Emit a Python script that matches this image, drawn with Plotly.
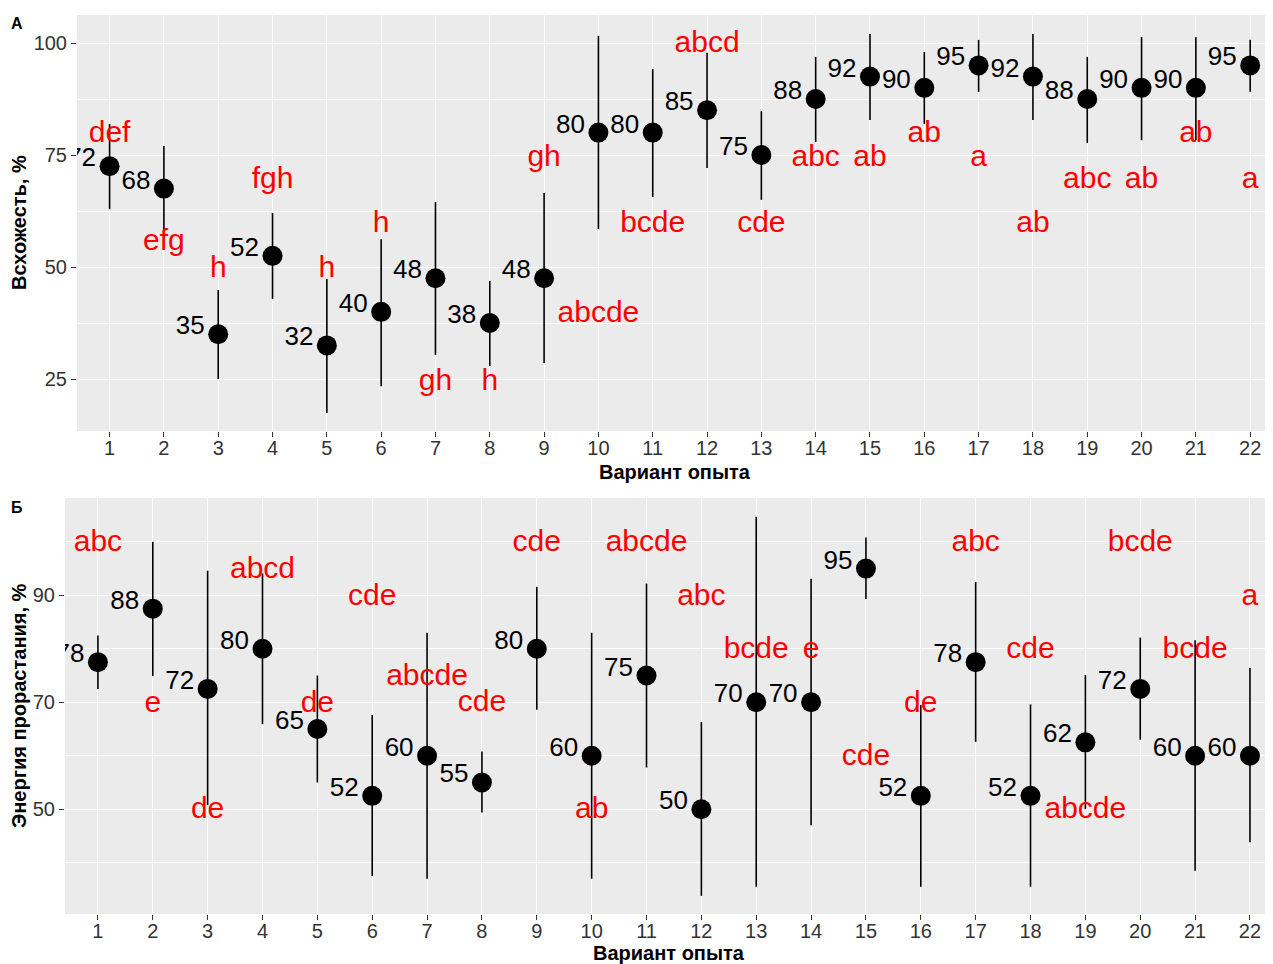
import plotly.graph_objects as go

# ---------------- data ----------------
variants = list(range(1, 23))

# Panel А: Всхожесть, %
a_mean = [72.5, 67.5, 35, 52.5, 32.5, 40, 47.5, 37.5, 47.5, 80, 80, 85, 75, 87.5,
          92.5, 90, 95, 92.5, 87.5, 90, 90, 95]
a_upper = [81.9, 77.0, 44.9, 62.1, 47.3, 56.2, 64.5, 46.9, 66.5, 101.6, 94.2, 97.8,
           84.8, 96.9, 102.0, 98.0, 100.7, 102.0, 96.9, 101.3, 101.3, 100.7]
a_lower = [62.9, 58.0, 25.0, 42.9, 17.4, 23.4, 30.4, 27.9, 28.6, 58.5, 65.6, 72.1,
           65.0, 77.9, 82.8, 81.9, 89.1, 82.8, 77.7, 78.3, 78.3, 89.1]
a_labels = ["72", "68", "35", "52", "32", "40", "48", "38", "48", "80", "80", "85",
            "75", "88", "92", "90", "95", "92", "88", "90", "90", "95"]
a_letters = ["def", "efg", "h", "fgh", "h", "h", "gh", "h", "gh", "abcde", "bcde",
             "abcd", "cde", "abc", "ab", "ab", "a", "ab", "abc", "ab", "ab", "a"]
a_letter_y = [79.5, 55.4, 49.5, 69.4, 49.5, 59.4, 24.3, 24.3, 74.3, 39.5, 59.4, 99.6,
              59.4, 74.3, 74.3, 79.5, 74.3, 59.4, 69.4, 69.4, 79.5, 69.4]

# Panel Б: Энергия прорастания, %
b_mean = [77.5, 87.5, 72.5, 80, 65, 52.5, 60, 55, 80, 60, 75, 50, 70, 70, 95, 52.5,
          77.5, 52.5, 62.5, 72.5, 60, 60]
b_upper = [82.5, 100.0, 94.6, 94.1, 75.0, 67.6, 83.0, 60.8, 91.6, 83.0, 92.2, 66.3,
           104.7, 93.1, 100.8, 69.5, 92.5, 69.6, 75.1, 82.1, 81.6, 76.4]
b_lower = [72.5, 74.9, 50.8, 65.9, 55.0, 37.5, 37.0, 49.4, 68.6, 37.0, 57.8, 33.8,
           35.5, 47.0, 89.3, 35.5, 62.6, 35.5, 50.0, 63.0, 38.5, 43.8]
b_labels = ["78", "88", "72", "80", "65", "52", "60", "55", "80", "60", "75", "50",
            "70", "70", "95", "52", "78", "52", "62", "72", "60", "60"]
b_letters = ["abc", "e", "de", "abcd", "de", "cde", "abcde", "cde", "cde", "ab",
             "abcde", "abc", "bcde", "e", "cde", "de", "abc", "cde", "abcde", "bcde",
             "bcde", "a"]
b_letter_y = [99.6, 69.5, 49.7, 94.7, 69.5, 89.5, 74.7, 69.7, 99.6, 49.7, 99.6, 89.5,
              79.6, 79.6, 59.6, 69.5, 99.6, 79.6, 49.7, 99.6, 79.6, 89.5]

a_yticks = [25, 50, 75, 100]
a_yminor = [37.5, 62.5, 87.5]
b_yticks = [50, 70, 90]
b_yminor = [40, 60, 80, 100]

# ---------------- layout geometry ----------------
# The page body has an 8px margin, so the figure is shrunk and shifted by it.
OFF = 8
W, H = 1273 - OFF, 964 - OFF
FONT = "Liberation Sans, Arial, sans-serif"
A_top, A_bot, A_left = 15, 431, 77      # page pixels
B_top, B_bot, B_left = 498, 914, 65
A_range = [13.4, 106.25]
B_range = [30.4, 108.2]
X_range = [0.4, 22.42]


def px(xp):
    return (xp - OFF) / W


def py(yp):
    return 1 - (yp - OFF) / H


def px_to_units(p, rng, top, bot):
    return p * (rng[1] - rng[0]) / (bot - top)


fig = go.Figure()


def add_panel(xa, ya, mean, upper, lower, labels, letters, letter_y, rng, top, bot):
    fig.add_trace(go.Scatter(
        x=variants, y=mean, mode="markers", xaxis=xa, yaxis=ya,
        marker=dict(color="black", size=20, line=dict(width=0)),
        error_y=dict(type="data", symmetric=False,
                     array=[u - m for u, m in zip(upper, mean)],
                     arrayminus=[m - l for m, l in zip(mean, lower)],
                     width=0, thickness=1.6, color="black"),
        showlegend=False, hoverinfo="skip", cliponaxis=True))
    dy = px_to_units(6.5, rng, top, bot)
    fig.add_trace(go.Scatter(
        x=variants, y=[m + dy for m in mean], mode="markers+text", xaxis=xa, yaxis=ya,
        marker=dict(size=20, color="rgba(0,0,0,0)"),
        text=labels, textposition="middle left",
        textfont=dict(family=FONT, size=26, color="black"),
        showlegend=False, hoverinfo="skip", cliponaxis=True))
    fig.add_trace(go.Scatter(
        x=variants, y=letter_y, mode="text", xaxis=xa, yaxis=ya,
        text=letters, textposition="middle center",
        textfont=dict(family=FONT, size=30, color="#FF0000"),
        showlegend=False, hoverinfo="skip", cliponaxis=True))


add_panel("x", "y", a_mean, a_upper, a_lower, a_labels, a_letters, a_letter_y,
          A_range, A_top, A_bot)
add_panel("x2", "y2", b_mean, b_upper, b_lower, b_labels, b_letters, b_letter_y,
          B_range, B_top, B_bot)

tickfont = dict(family=FONT, size=20, color="#333333")
common_x = dict(range=X_range, tickmode="array", tickvals=variants,
                ticktext=[str(v) for v in variants], showgrid=True,
                gridcolor="white", gridwidth=1.2, zeroline=False, showline=False,
                ticks="outside", ticklen=5, tickwidth=1, tickcolor="#333333",
                tickfont=tickfont, fixedrange=True, ticklabelstandoff=-6)
common_y = dict(showgrid=True, gridcolor="white", gridwidth=1.2, zeroline=False,
                showline=False, ticks="outside", ticklen=5, tickwidth=1,
                tickcolor="#333333", tickfont=tickfont, fixedrange=True)

fig.update_layout(
    width=W, height=H, autosize=False,
    margin=dict(l=0, r=0, t=0, b=0),
    paper_bgcolor="white", plot_bgcolor="#EBEBEB",
    font=dict(family=FONT),
    xaxis=dict(common_x, domain=[px(A_left), 1], anchor="y"),
    yaxis=dict(common_y, domain=[py(A_bot), py(A_top)], anchor="x",
               range=A_range, tickmode="array", tickvals=a_yticks,
               minor=dict(tickvals=a_yminor, showgrid=True, gridcolor="white",
                          gridwidth=0.6, ticks="")),
    xaxis2=dict(common_x, domain=[px(B_left), 1], anchor="y2"),
    yaxis2=dict(common_y, domain=[py(B_bot), py(B_top)], anchor="x2",
                range=B_range, tickmode="array", tickvals=b_yticks,
                minor=dict(tickvals=b_yminor, showgrid=True, gridcolor="white",
                           gridwidth=0.6, ticks="")),
)

title_font = dict(family=FONT, size=20, color="black")
annos = [
    dict(text="<b>Вариант опыта</b>", x=px((A_left + 1273) / 2), y=py(472),
         xref="paper", yref="paper", showarrow=False, font=title_font,
         xanchor="center", yanchor="middle"),
    dict(text="<b>Вариант опыта</b>", x=px((B_left + 1273) / 2), y=py(953),
         xref="paper", yref="paper", showarrow=False, font=title_font,
         xanchor="center", yanchor="middle"),
    dict(text="<b>Всхожесть, %</b>", x=px(19), y=py((A_top + A_bot) / 2),
         xref="paper", yref="paper", showarrow=False, font=title_font,
         textangle=-90, xanchor="center", yanchor="middle"),
    dict(text="<b>Энергия прорастания, %</b>", x=px(19), y=py((B_top + B_bot) / 2),
         xref="paper", yref="paper", showarrow=False, font=title_font,
         textangle=-90, xanchor="center", yanchor="middle"),
    dict(text="<b>А</b>", x=px(16.5), y=py(23), xref="paper", yref="paper",
         showarrow=False, font=dict(family=FONT, size=16, color="black"),
         xanchor="center", yanchor="middle"),
    dict(text="<b>Б</b>", x=px(16.5), y=py(507), xref="paper", yref="paper",
         showarrow=False, font=dict(family=FONT, size=16, color="black"),
         xanchor="center", yanchor="middle"),
]
fig.update_layout(annotations=annos)

fig.write_html("out.html")
